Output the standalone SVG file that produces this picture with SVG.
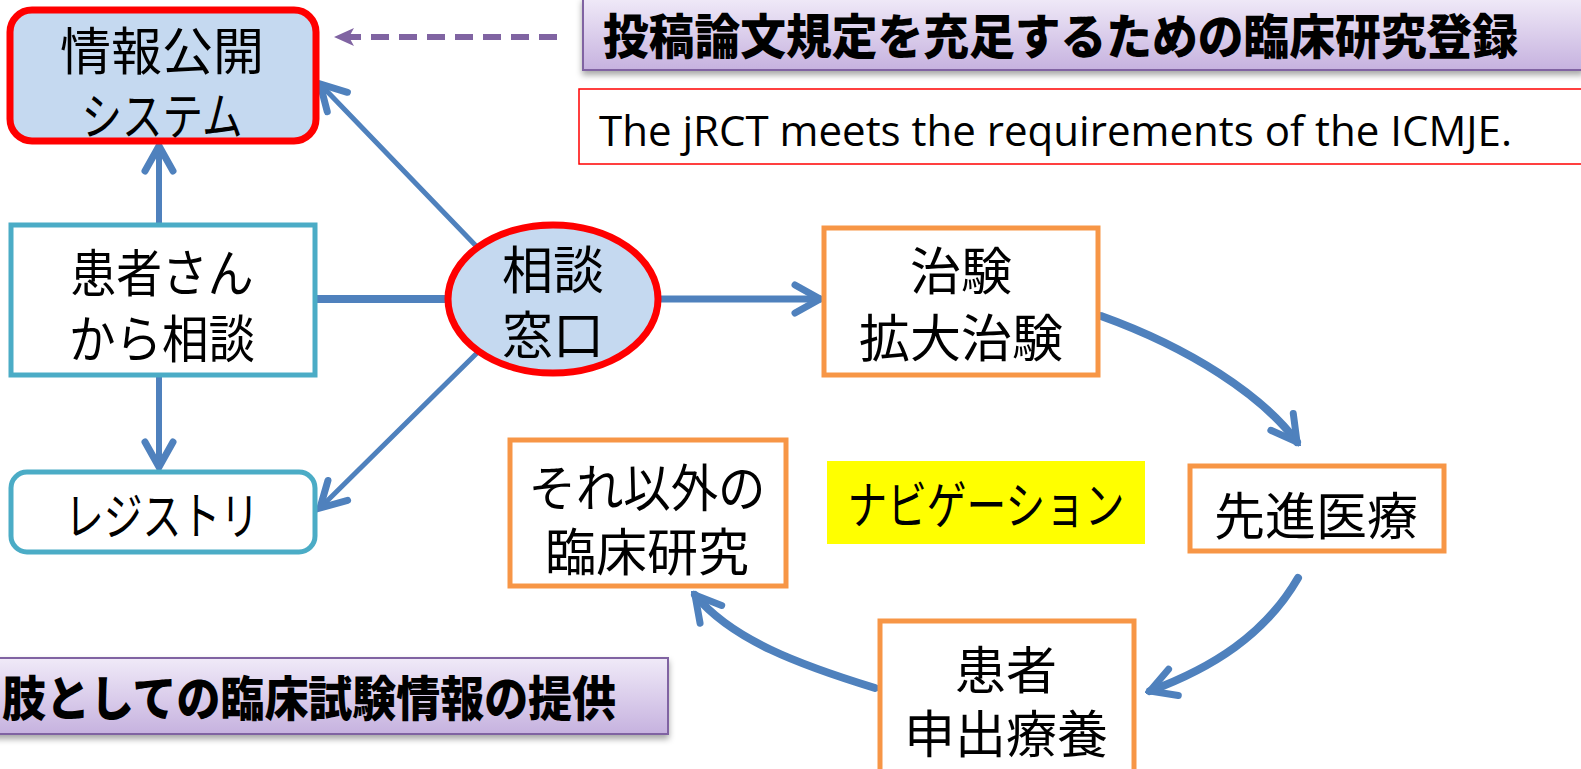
<svg xmlns="http://www.w3.org/2000/svg" width="1581" height="769" viewBox="0 0 1581 769">
<style>
.t{font-family:"Noto Sans CJK JP","Noto Sans CJK SC",sans-serif;font-size:51px;fill:#000;text-anchor:middle;dominant-baseline:central}
.b{font-family:"Noto Sans CJK JP","Noto Sans CJK SC",sans-serif;font-size:48px;font-weight:900;fill:#000;dominant-baseline:central}
.orange{fill:#fff;stroke:#F79646;stroke-width:5}
.cyan{fill:#fff;stroke:#4BACC6;stroke-width:5}
.red{fill:#C5D9F0;stroke:#FF0000;stroke-width:7}
.conn{fill:none;stroke:#4F81BD;stroke-linecap:round}
.w5{stroke-width:5}
.w6{stroke-width:6}
.w7{stroke-width:7}
.w8{stroke-width:8}
.banner{fill:url(#pg);stroke:#8064A2;stroke-width:2;filter:url(#sh)}
</style>
<defs>
<linearGradient id="pg" x1="0" y1="0" x2="0" y2="1">
<stop offset="0" stop-color="#F0EAF8"/>
<stop offset="1" stop-color="#C6B2DF"/>
</linearGradient>
<filter id="sh" x="-5%" y="-20%" width="110%" height="150%">
<feDropShadow dx="0" dy="4" stdDeviation="3" flood-color="#000" flood-opacity="0.35"/>
</filter>
<marker id="ah" markerUnits="userSpaceOnUse" markerWidth="40" markerHeight="40" viewBox="0 0 40 40" refX="35" refY="20" orient="auto">
<path d="M10,6 L35,20 L10,34" fill="none" stroke="#4F81BD" stroke-width="7" stroke-linecap="round" stroke-linejoin="miter"/>
</marker>
<marker id="ahp" markerUnits="userSpaceOnUse" markerWidth="24" markerHeight="24" viewBox="0 0 24 24" refX="22" refY="12" orient="auto">
<path d="M2,3 L22,12 L2,21 L7,12 Z" fill="#8064A2"/>
</marker>
</defs>

<g id="connectors">
<line class="conn w6" x1="159" y1="224" x2="159" y2="146" marker-end="url(#ah)"/>
<line class="conn w6" x1="159" y1="376" x2="159" y2="467" marker-end="url(#ah)"/>
<line class="conn w8" x1="315" y1="299" x2="449" y2="299" style="stroke-linecap:butt"/>
<line class="conn w5" x1="479" y1="249" x2="320" y2="84" marker-end="url(#ah)"/>
<line class="conn w5" x1="479" y1="351" x2="320" y2="508" marker-end="url(#ah)"/>
<line class="conn w7" x1="660" y1="299" x2="820" y2="299" marker-end="url(#ah)"/>
<path class="conn w8" d="M1101,316 C1190,348 1262,395 1297,442" marker-end="url(#ah)"/>
<path class="conn w8" d="M1298,578 C1265,635 1212,668 1150,691" marker-end="url(#ah)"/>
<path class="conn w8" d="M875,688 C800,665 732,640 695,595" marker-end="url(#ah)"/>
<line x1="557" y1="37" x2="334" y2="37" stroke="#8064A2" stroke-width="6" stroke-dasharray="18,10" marker-end="url(#ahp)"/>
</g>

<g id="title-top">
<rect class="banner" x="583" y="-2" width="1000" height="72"/>
<text class="b" x="603" y="33" textLength="915" lengthAdjust="spacingAndGlyphs">投稿論文規定を充足するための臨床研究登録</text>
</g>

<g id="icmje-note">
<rect x="579" y="89" width="1010" height="75" fill="#fff" stroke="#FF0000" stroke-width="1.5"/>
<text x="599" y="129" font-family="Open Sans, Noto Sans, sans-serif" font-size="42" dominant-baseline="central" fill="#000" textLength="913" lengthAdjust="spacingAndGlyphs">The jRCT meets the requirements of the ICMJE.</text>
</g>

<g id="title-bottom">
<rect class="banner" x="-10" y="658" width="678" height="76"/>
<text class="b" x="2" y="695" textLength="614" lengthAdjust="spacingAndGlyphs">肢としての臨床試験情報の提供</text>
</g>

<g id="node-info">
<rect class="red" x="10" y="10" width="306" height="131" rx="22"/>
<text class="t" x="162" y="48">情報公開</text>
<text class="t" x="162" y="113" textLength="161" lengthAdjust="spacingAndGlyphs">システム</text>
</g>

<g id="node-patient">
<rect class="cyan" x="11" y="225" width="304" height="150"/>
<text class="t" x="162" y="270" textLength="183" lengthAdjust="spacingAndGlyphs">患者さん</text>
<text class="t" x="162" y="336" textLength="186" lengthAdjust="spacingAndGlyphs">から相談</text>
</g>

<g id="node-registry">
<rect class="cyan" x="11" y="472" width="304" height="80" rx="16"/>
<text class="t" x="162" y="513" textLength="194" lengthAdjust="spacingAndGlyphs">レジストリ</text>
</g>

<g id="node-consult">
<ellipse class="red" cx="553" cy="299" rx="105" ry="74"/>
<text class="t" x="553" y="267">相談</text>
<text class="t" x="553" y="332">窓口</text>
</g>

<g id="node-trial">
<rect class="orange" x="824" y="228" width="274" height="147"/>
<text class="t" x="961" y="268">治験</text>
<text class="t" x="961" y="335">拡大治験</text>
</g>

<g id="node-advanced">
<rect class="orange" x="1190" y="466" width="254" height="85"/>
<text class="t" x="1316" y="513">先進医療</text>
</g>

<g id="node-patient-request">
<rect class="orange" x="880" y="621" width="254" height="152"/>
<text class="t" x="1006" y="667">患者</text>
<text class="t" x="1006" y="731">申出療養</text>
</g>

<g id="node-other">
<rect class="orange" x="510" y="440" width="276" height="146"/>
<text class="t" x="647" y="485" textLength="237" lengthAdjust="spacingAndGlyphs">それ以外の</text>
<text class="t" x="647" y="549">臨床研究</text>
</g>

<g id="label-navi">
<rect x="827" y="461" width="318" height="83" fill="#FFFF00"/>
<text class="t" x="986" y="502" textLength="277" lengthAdjust="spacingAndGlyphs">ナビゲーション</text>
</g>
</svg>
